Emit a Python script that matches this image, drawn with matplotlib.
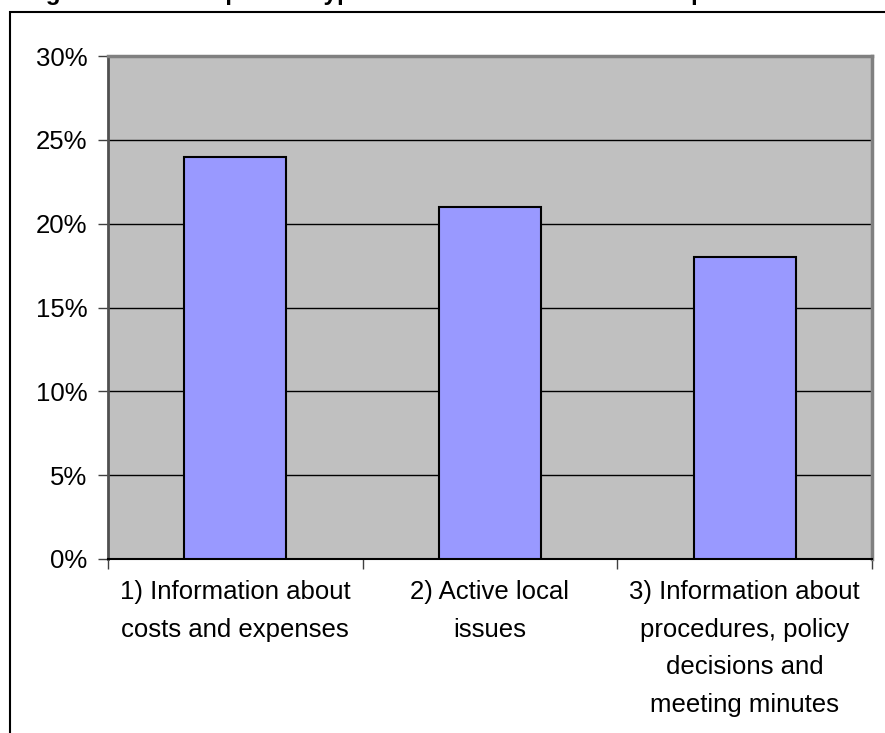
import matplotlib
matplotlib.use("Agg")
import matplotlib.pyplot as plt
from matplotlib.patches import Rectangle
from matplotlib.ticker import FixedLocator, PercentFormatter

categories = ["1) Information about\ncosts and expenses",
              "2) Active local\nissues",
              "3) Information about\nprocedures, policy\ndecisions and\nmeeting minutes"]
values = [24, 21, 18]
yticks = [0, 5, 10, 15, 20, 25, 30]
title = "Figure 4: Most important types of information to be made public"

plt.rcParams['font.family'] = ['Liberation Sans', 'DejaVu Sans']

W, H = 885, 733
fig = plt.figure(figsize=(W / 100, H / 100), dpi=100)
ax = fig.add_axes([108 / W, 1 - 559 / H, (872 - 108) / W, (559 - 56) / H])

x = list(range(len(categories)))
ax.set_facecolor("#C0C0C0")
ax.bar(x, values, width=0.4, color="#9999FF", edgecolor="black", linewidth=1.5, zorder=3)

ax.set_xlim(-0.5, len(categories) - 0.5)
ax.set_ylim(0, 30)
ax.set_yticks(yticks)
ax.yaxis.set_major_formatter(PercentFormatter(decimals=0))
ax.yaxis.grid(True, color="black", linewidth=1.0, zorder=1)
ax.set_axisbelow(True)

ax.xaxis.set_major_locator(FixedLocator([i - 0.5 for i in range(len(categories) + 1)]))
ax.xaxis.set_major_formatter(plt.NullFormatter())
ax.xaxis.set_minor_locator(FixedLocator(x))
ax.set_xticklabels(categories, minor=True, fontsize=18.5, linespacing=1.72, va="top")
ax.tick_params(axis="x", which="minor", length=0, pad=15)
ax.tick_params(axis="x", which="major", length=7, width=1, color="#404040", direction="out")
ax.tick_params(axis="y", length=7, width=1, color="#404040", direction="out", labelsize=18.5, pad=8)

for s in ["top", "right"]:
    ax.spines[s].set_color("#808080")
    ax.spines[s].set_linewidth(2.5)
ax.spines["left"].set_color("#505050")
ax.spines["left"].set_linewidth(2)
ax.spines["bottom"].set_color("black")
ax.spines["bottom"].set_linewidth(1.5)

# outer chart frame
fig.patches.append(Rectangle((10 / W, -0.1), 1.2, 1.1 - 12 / H, transform=fig.transFigure,
                             fill=False, edgecolor="black", linewidth=1.5, clip_on=False))

# title cut off at the top of the image (only descenders visible in the reference)
fig.text(24 / W, 1.0 + 0.5 / H, title, fontsize=17.5, fontweight="bold", ha="left", va="baseline")

fig.savefig("out.png", dpi=100)
